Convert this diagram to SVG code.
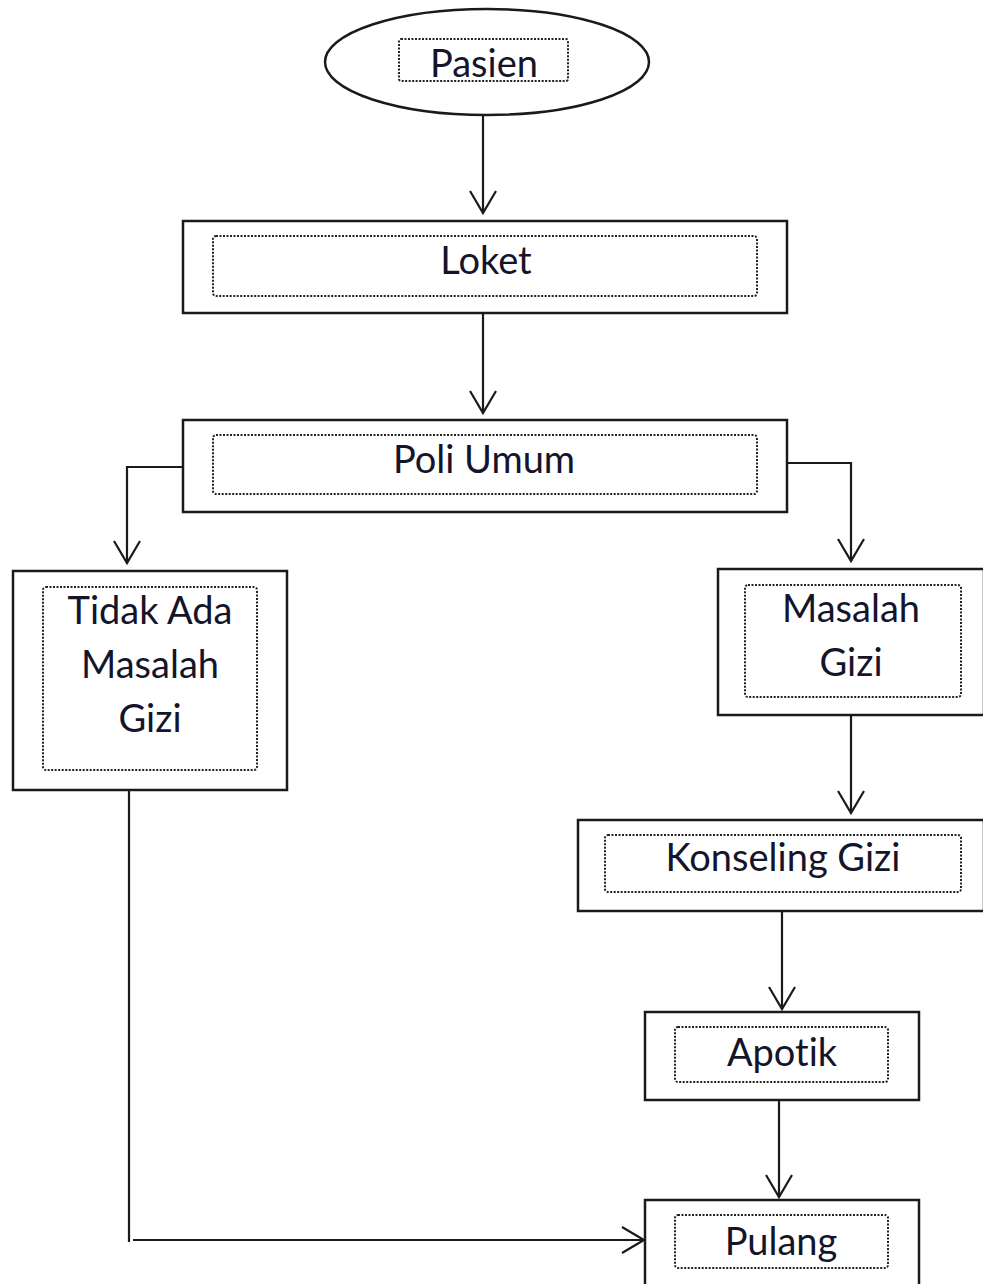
<svg xmlns="http://www.w3.org/2000/svg" width="983" height="1284" viewBox="0 0 983 1284">
<style>
.box{fill:#fff;stroke:#1a1a1a;stroke-width:2.5}
.dot{fill:none;stroke:#222;stroke-width:2;stroke-dasharray:2 1.5}
.lbl{font-family:Lato,"Open Sans",sans-serif;font-size:38px;fill:#14142a;text-anchor:middle;font-variant-ligatures:none;font-feature-settings:"liga" 0}
.con{fill:none;stroke:#1a1a1a;stroke-width:2.2}
</style>
<defs>
<marker id="arr" markerUnits="userSpaceOnUse" markerWidth="30" markerHeight="30" refX="24" refY="15" orient="auto">
<path d="M2,2 L24,15 L2,28" fill="none" stroke="#1a1a1a" stroke-width="2.2"/>
</marker>
</defs>
<rect width="983" height="1284" fill="#fff"/>
<g id="connectors">
<path class="con" d="M483,115 V213" marker-end="url(#arr)"/>
<path class="con" d="M483,313 V413" marker-end="url(#arr)"/>
<path class="con" d="M183,467 H127 V563" marker-end="url(#arr)"/>
<path class="con" d="M787,463 H851 V561" marker-end="url(#arr)"/>
<path class="con" d="M851,715 V813" marker-end="url(#arr)"/>
<path class="con" d="M782,911 V1009" marker-end="url(#arr)"/>
<path class="con" d="M779,1100 V1197" marker-end="url(#arr)"/>
<path class="con" d="M129,790 V1242"/>
<path class="con" d="M133,1240 H644" marker-end="url(#arr)"/>
</g>
<g id="pasien">
<ellipse class="box" cx="487" cy="62" rx="162" ry="53"/>
<rect class="dot" x="399" y="39" width="169" height="42" rx="2"/>
<text class="lbl" x="484" y="77">Pasien</text>
</g>
<g id="loket">
<rect class="box" x="183" y="221" width="604" height="92"/>
<rect class="dot" x="213" y="236" width="544" height="60" rx="3"/>
<text class="lbl" x="486" y="274">Loket</text>
</g>
<g id="poli-umum">
<rect class="box" x="183" y="420" width="604" height="92"/>
<rect class="dot" x="213" y="435" width="544" height="59" rx="3"/>
<text class="lbl" x="484" y="473">Poli Umum</text>
</g>
<g id="tidak-ada">
<rect class="box" x="13" y="571" width="274" height="219"/>
<rect class="dot" x="43" y="587" width="214" height="183" rx="3"/>
<text class="lbl" x="150" y="624">Tidak Ada</text>
<text class="lbl" x="150" y="678">Masalah</text>
<text class="lbl" x="150" y="732">Gizi</text>
</g>
<g id="masalah-gizi">
<rect class="box" x="718" y="569" width="266" height="146"/>
<rect class="dot" x="745" y="585" width="216" height="112" rx="3"/>
<text class="lbl" x="851" y="622">Masalah</text>
<text class="lbl" x="851" y="676">Gizi</text>
</g>
<g id="konseling-gizi">
<rect class="box" x="578" y="820" width="406" height="91"/>
<rect class="dot" x="605" y="835" width="356" height="57" rx="3"/>
<text class="lbl" x="783" y="871">Konseling Gizi</text>
</g>
<g id="apotik">
<rect class="box" x="645" y="1012" width="274" height="88"/>
<rect class="dot" x="675" y="1027" width="213" height="55" rx="3"/>
<text class="lbl" x="782" y="1066">Apotik</text>
</g>
<g id="pulang">
<rect class="box" x="645" y="1200" width="274" height="100"/>
<rect class="dot" x="675" y="1215" width="213" height="53" rx="3"/>
<text class="lbl" x="781" y="1255">Pulang</text>
</g>
</svg>
